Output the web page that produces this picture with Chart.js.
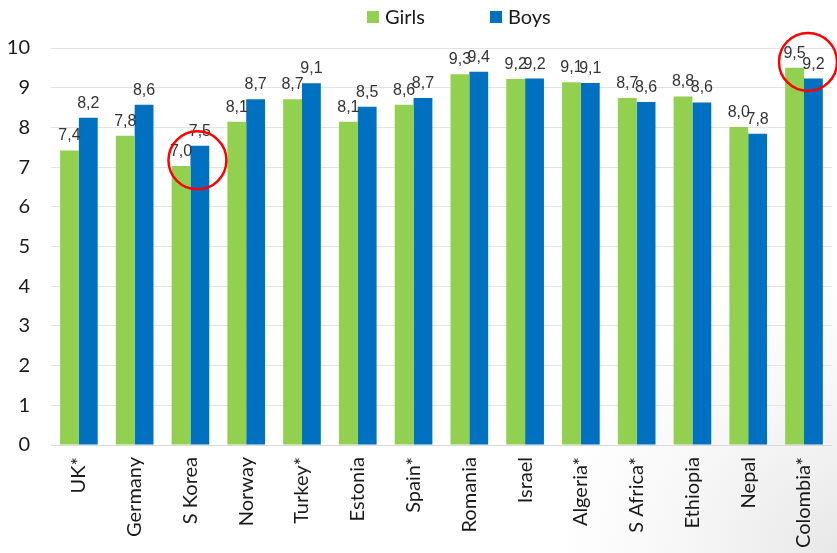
<!DOCTYPE html>
<html>
<head>
<meta charset="utf-8">
<script src="https://cdn.jsdelivr.net/npm/chart.js@4/dist/chart.umd.min.js"></script>
<style>
  html, body { margin: 0; padding: 0; overflow: hidden; }
  body { width: 837px; height: 553px;
    background: radial-gradient(circle at 100% 100%, #e8e8e8 0%, #f7f7f7 16%, #ffffff 28%); }
  #wrap { position: absolute; left: 0; top: 0; width: 840px; height: 553px; }
</style>
</head>
<body>
<div id="wrap"><canvas id="c" width="840" height="553"></canvas></div>
<script>
const categories = ["UK*", "Germany", "S Korea", "Norway", "Turkey*", "Estonia", "Spain*", "Romania", "Israel", "Algeria*", "S Africa*", "Ethiopia", "Nepal", "Colombia*"];
const girls = [7.42, 7.79, 7.03, 8.14, 8.71, 8.14, 8.57, 9.34, 9.22, 9.14, 8.74, 8.78, 8.01, 9.50];
const boys  = [8.24, 8.57, 7.54, 8.71, 9.11, 8.52, 8.74, 9.40, 9.23, 9.12, 8.64, 8.63, 7.84, 9.23];
const yTicks = [0, 1, 2, 3, 4, 5, 6, 7, 8, 9, 10];
const circled = [{ category: "S Korea", value: 7.17, shift: 7 }, { category: "Colombia*", value: 9.65, shift: 4 }];

const GREEN = "#92D050", BLUE = "#0070C0";

const valueLabels = {
  id: "valueLabels",
  afterDatasetsDraw(chart) {
    const ctx = chart.ctx;
    ctx.save();
    ctx.font = "16px 'Liberation Sans', Arial, sans-serif";
    ctx.fillStyle = "#333333";
    ctx.textAlign = "center";
    ctx.textBaseline = "alphabetic";
    chart.data.datasets.forEach((ds, di) => {
      chart.getDatasetMeta(di).data.forEach((bar, i) => {
        const txt = ds.data[i].toFixed(1).replace(".", ",");
        ctx.fillText(txt, bar.x, bar.y - 10);
      });
    });
    ctx.restore();
  }
};

const circles = {
  id: "circles",
  afterDraw(chart) {
    const ctx = chart.ctx, xs = chart.scales.x, ys = chart.scales.y;
    ctx.save();
    ctx.strokeStyle = "#ff0000";
    ctx.lineWidth = 2.5;
    circled.forEach(c => {
      const x = xs.getPixelForValue(categories.indexOf(c.category)) + c.shift;
      const y = ys.getPixelForValue(c.value);
      ctx.beginPath();
      ctx.arc(x, y, 29, 0, Math.PI * 2);
      ctx.stroke();
    });
    ctx.restore();
  }
};

const topLegend = {
  id: "topLegend",
  afterDraw(chart) {
    const ctx = chart.ctx;
    const pos = [367, 490];
    ctx.save();
    ctx.font = "20px Lato, 'Open Sans', sans-serif";
    ctx.textBaseline = "alphabetic";
    ctx.textAlign = "left";
    chart.data.datasets.forEach((ds, i) => {
      ctx.fillStyle = ds.backgroundColor;
      ctx.fillRect(pos[i], 11, 12, 12);
      ctx.fillStyle = "#1a1a1a";
      ctx.fillText(ds.label, pos[i] + 18, 24);
    });
    ctx.restore();
  }
};

new Chart(document.getElementById("c"), {
  type: "bar",
  data: {
    labels: categories,
    datasets: [
      { label: "Girls", data: girls, backgroundColor: GREEN, categoryPercentage: 0.675, barPercentage: 1 },
      { label: "Boys", data: boys, backgroundColor: BLUE, categoryPercentage: 0.675, barPercentage: 1 }
    ]
  },
  options: {
    responsive: false,
    animation: false,
    layout: { padding: { top: 48, right: 0, bottom: 0, left: 0 } },
    plugins: { legend: { display: false }, tooltip: { enabled: false } },
    scales: {
      x: {
        grid: { display: false, drawTicks: false },
        border: { display: true, color: "#d9d9d9" },
        ticks: { color: "#1a1a1a", font: { family: "Lato, 'Open Sans', sans-serif", size: 20 }, minRotation: 90, maxRotation: 90, padding: 12, autoSkip: false },
        afterFit(s) { s.height = 108; }
      },
      y: {
        min: 0, max: 10,
        afterBuildTicks(s) { s.ticks = yTicks.map(v => ({ value: v })); },
        grid: { color: "#e3e3e3", drawTicks: false },
        border: { display: false },
        ticks: { color: "#1a1a1a", font: { family: "Lato, 'Open Sans', sans-serif", size: 20 }, padding: 21 },
        afterFit(s) { s.width = 51; }
      }
    }
  },
  plugins: [valueLabels, circles, topLegend]
});
</script>
</body>
</html>
